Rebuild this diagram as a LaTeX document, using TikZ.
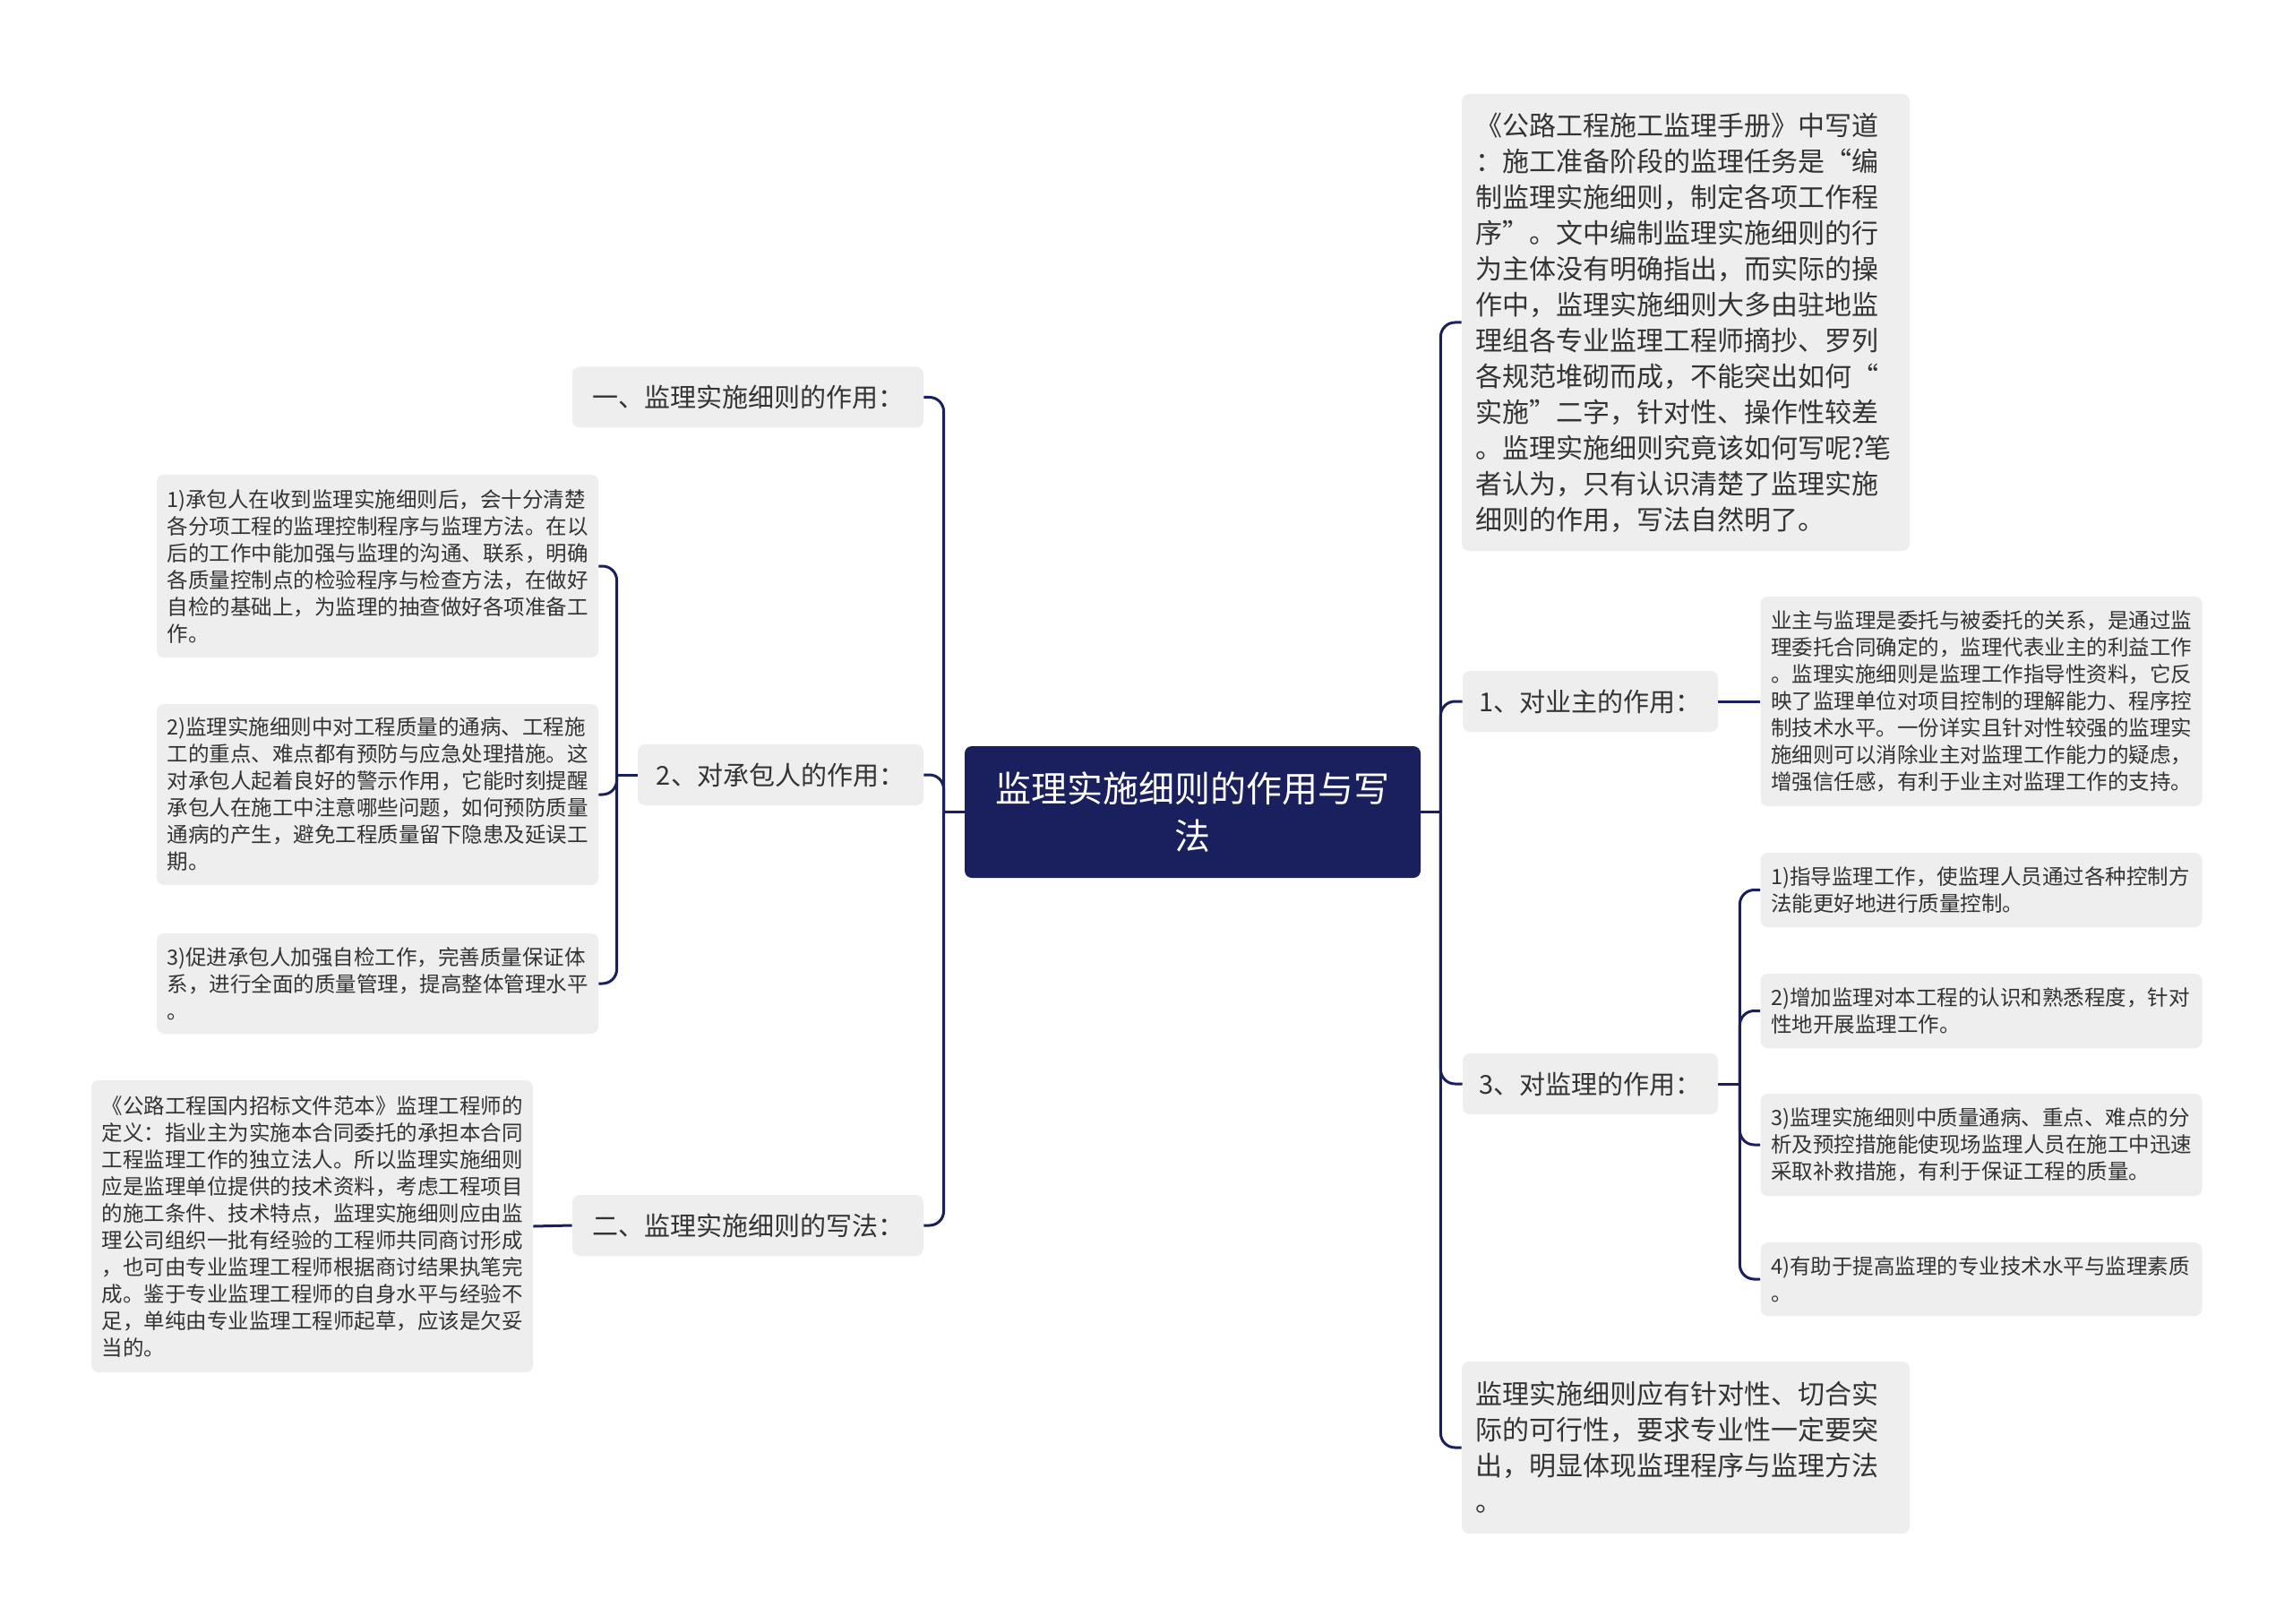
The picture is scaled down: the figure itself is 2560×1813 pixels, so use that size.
\documentclass[tikz,border=0pt]{standalone}
\usepackage{fontspec}
\setmainfont{Noto Sans CJK SC}
\usetikzlibrary{calc}
\definecolor{navy}{RGB}{26,31,94}
\definecolor{boxgray}{RGB}{238,238,238}
\definecolor{txt}{RGB}{51,51,51}
\begin{document}
\begin{tikzpicture}[x=0.5pt,y=-0.5pt,
  box/.style={fill=boxgray, rounded corners=4pt, text=txt, inner ysep=0pt},
  rootbox/.style={fill=navy, rounded corners=4pt, text=white, font=\fontsize{20}{26.5}\selectfont, align=center, inner sep=0pt, minimum width=254.5pt, minimum height=73.5pt},
  midbox/.style={box, font=\fontsize{14.5}{18}\selectfont, inner xsep=0pt, align=center, minimum height=34pt},
  bigbox/.style={box, font=\fontsize{15}{20}\selectfont, align=left, text width=235pt, inner xsep=7.5pt},
  smallbox/.style={box, font=\fontsize{11.75}{15}\selectfont, align=left, text width=235pt, inner xsep=5.75pt},
  conn/.style={draw=navy, line width=1.5pt, rounded corners=8pt},
]
\fill[white] (0,0) rectangle (2560,1813);
\useasboundingbox (0,0) rectangle (2560,1813);

% root
\node[rootbox] (root) at (1331.5,906.5) {监理实施细则的作用与写\\法};

% left mid nodes
\node[midbox, minimum width=196pt] (m1) at (835,443.5) {一、监理实施细则的作用：};
\node[midbox, minimum width=159.5pt] (m2) at (871.5,865) {2、对承包人的作用：};
\node[midbox, minimum width=196pt] (m3) at (835,1368) {二、监理实施细则的写法：};

% left leaves
\node[smallbox, minimum height=102pt] (L1) at (421.5,632) {1)承包人在收到监理实施细则后，会十分清楚\\各分项工程的监理控制程序与监理方法。在以\\后的工作中能加强与监理的沟通、联系，明确\\各质量控制点的检验程序与检查方法，在做好\\自检的基础上，为监理的抽查做好各项准备工\\作。};
\node[smallbox, minimum height=101pt] (L2) at (421.5,887) {2)监理实施细则中对工程质量的通病、工程施\\工的重点、难点都有预防与应急处理措施。这\\对承包人起着良好的警示作用，它能时刻提醒\\承包人在施工中注意哪些问题，如何预防质量\\通病的产生，避免工程质量留下隐患及延误工\\期。};
\node[smallbox, minimum height=56pt] (L3) at (421.5,1098) {3)促进承包人加强自检工作，完善质量保证体\\系，进行全面的质量管理，提高整体管理水平\\。};
\node[smallbox, minimum height=163pt] (LB) at (348.5,1369) {《公路工程国内招标文件范本》监理工程师的\\定义：指业主为实施本合同委托的承担本合同\\工程监理工作的独立法人。所以监理实施细则\\应是监理单位提供的技术资料，考虑工程项目\\的施工条件、技术特点，监理实施细则应由监\\理公司组织一批有经验的工程师共同商讨形成\\，也可由专业监理工程师根据商讨结果执笔完\\成。鉴于专业监理工程师的自身水平与经验不\\足，单纯由专业监理工程师起草，应该是欠妥\\当的。};

% right nodes
\node[bigbox, minimum height=255pt] (R0) at (1882,360) {《公路工程施工监理手册》中写道\\：施工准备阶段的监理任务是“编\\制监理实施细则，制定各项工作程\\序”。文中编制监理实施细则的行\\为主体没有明确指出，而实际的操\\作中，监理实施细则大多由驻地监\\理组各专业监理工程师摘抄、罗列\\各规范堆砌而成，不能突出如何“\\实施”二字，针对性、操作性较差\\。监理实施细则究竟该如何写呢?笔\\者认为，只有认识清楚了监理实施\\细则的作用，写法自然明了。};
\node[midbox, minimum width=142.5pt] (r1) at (1775.5,783) {1、对业主的作用：};
\node[smallbox, minimum height=117pt] (r1c) at (2212,783) {业主与监理是委托与被委托的关系，是通过监\\理委托合同确定的，监理代表业主的利益工作\\。监理实施细则是监理工作指导性资料，它反\\映了监理单位对项目控制的理解能力、程序控\\制技术水平。一份详实且针对性较强的监理实\\施细则可以消除业主对监理工作能力的疑虑，\\增强信任感，有利于业主对监理工作的支持。};
\node[midbox, minimum width=142.5pt] (r3) at (1775.5,1210) {3、对监理的作用：};
\node[smallbox, minimum height=41.5pt] (c1) at (2212,993.5) {1)指导监理工作，使监理人员通过各种控制方\\法能更好地进行质量控制。};
\node[smallbox, minimum height=41.5pt] (c2) at (2212,1128.5) {2)增加监理对本工程的认识和熟悉程度，针对\\性地开展监理工作。};
\node[smallbox, minimum height=57pt] (c3) at (2212,1278) {3)监理实施细则中质量通病、重点、难点的分\\析及预控措施能使现场监理人员在施工中迅速\\采取补救措施，有利于保证工程的质量。};
\node[smallbox, minimum height=41pt] (c4) at (2212,1428) {4)有助于提高监理的专业技术水平与监理素质\\。};
\node[bigbox, minimum height=96pt] (RB) at (1882,1616) {监理实施细则应有针对性、切合实\\际的可行性，要求专业性一定要突\\出，明显体现监理程序与监理方法\\。};

% connectors left
\coordinate (jl) at ($(root.west)+(-23,0)$);
\draw[conn] (root.west) -- (jl);
\draw[conn] (jl) |- (m1.east);
\draw[conn] (jl) |- (m2.east);
\draw[conn] (jl) |- (m3.east);
\coordinate (jl2) at ($(m2.west)+(-23,0)$);
\draw[conn] (m2.west) -- (jl2);
\draw[conn] (jl2) |- (L1.east);
\draw[conn] (jl2) |- (L2.east);
\draw[conn] (jl2) |- (L3.east);
\draw[conn] (m3.west) -- (LB.east);

% connectors right
\coordinate (jr) at ($(root.east)+(22,0)$);
\draw[conn] (root.east) -- (jr);
\draw[conn] (jr) |- (R0.west);
\draw[conn] (jr) |- (r1.west);
\draw[conn] (jr) |- (r3.west);
\draw[conn] (jr) |- (RB.west);
\draw[conn] (r1.east) -- (r1c.west);
\coordinate (jr3) at ($(r3.east)+(24,0)$);
\draw[conn] (r3.east) -- (jr3);
\draw[conn] (jr3) |- (c1.west);
\draw[conn] (jr3) |- (c2.west);
\draw[conn] (jr3) |- (c3.west);
\draw[conn] (jr3) |- (c4.west);
\end{tikzpicture}
\end{document}
